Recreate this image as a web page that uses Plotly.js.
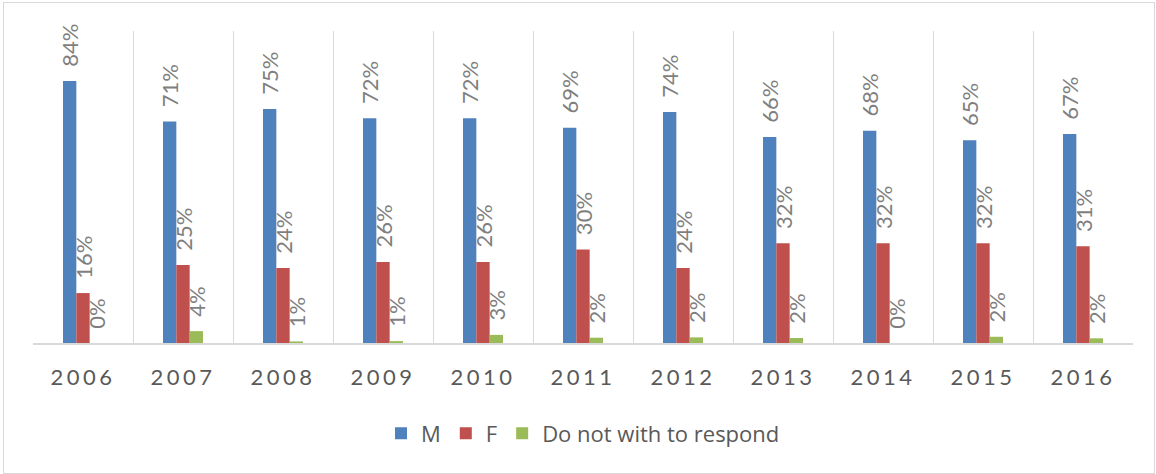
<!DOCTYPE html>
<html>
<head>
<meta charset="utf-8">
<script src="https://cdn.plot.ly/plotly-3.0.1.min.js"></script>
<style>
  html, body { margin: 0; padding: 0; background: #fff; }
  #wrap { position: relative; width: 1156px; height: 474px; }
  #chart { width: 1156px; height: 474px; }
  #frame { position: absolute; left: 3px; top: 2px; width: 1150px; height: 470px; border: 1px solid #d9d9d9; pointer-events: none; }
  .xtick text { letter-spacing: 3.5px; }
</style>
</head>
<body>
<div id="wrap">
  <div id="chart"></div>
  <div id="frame"></div>
</div>
<script>
const years = ["2006","2007","2008","2009","2010","2011","2012","2013","2014","2015","2016"];
const seriesNames = ["M", "F", "Do not with to respond"];
const valuesM = [0.84, 0.71, 0.75, 0.72, 0.72, 0.69, 0.74, 0.66, 0.68, 0.65, 0.67];
const valuesF = [0.16, 0.25, 0.24, 0.26, 0.26, 0.30, 0.24, 0.32, 0.32, 0.32, 0.31];
const valuesNR = [0.0, 0.038, 0.005, 0.006, 0.026, 0.017, 0.018, 0.016, 0.0, 0.02, 0.015];
const colors = ["#4F81BD", "#C0504D", "#9BBB59"];

const allValues = [valuesM, valuesF, valuesNR];
const labelFont = { family: "Lato, 'Open Sans', sans-serif", size: 22, color: "#7f7f7f" };

const traces = allValues.map((vals, i) => ({
  type: "bar",
  name: seriesNames[i],
  x: years,
  y: vals,
  marker: { color: colors[i] },
  text: vals.map(v => "\u00a0\u00a0" + Math.round(v * 100) + "%"),
  textposition: "outside",
  textangle: -90,
  textfont: labelFont,
  constraintext: "none",
  cliponaxis: false,
  hoverinfo: "none"
}));

const layout = {
  width: 1156,
  height: 474,
  margin: { l: 33, r: 23, t: 31, b: 131 },
  paper_bgcolor: "#ffffff",
  plot_bgcolor: "#ffffff",
  barmode: "group",
  bargap: 0.6,
  bargroupgap: 0,
  showlegend: true,
  legend: {
    orientation: "h",
    x: 0.5, xanchor: "center",
    y: -0.29, yanchor: "middle",
    font: { family: "'Open Sans', Lato, sans-serif", size: 22, color: "#595959" },
    itemsizing: "constant",
    traceorder: "normal"
  },
  xaxis: {
    type: "category",
    tickson: "boundaries",
    showgrid: true,
    gridcolor: "#d9d9d9",
    gridwidth: 1,
    showline: true,
    linecolor: "#d9d9d9",
    linewidth: 1.5,
    ticks: "",
    tickfont: { family: "Lato, 'Open Sans', sans-serif", size: 22, color: "#595959" },
    ticklabelstandoff: 14,
    fixedrange: true
  },
  yaxis: {
    range: [0, 1],
    showgrid: false,
    showticklabels: false,
    zeroline: false,
    showline: false,
    ticks: "",
    fixedrange: true
  }
};

Plotly.newPlot("chart", traces, layout, { displayModeBar: false, staticPlot: true });
</script>
</body>
</html>
